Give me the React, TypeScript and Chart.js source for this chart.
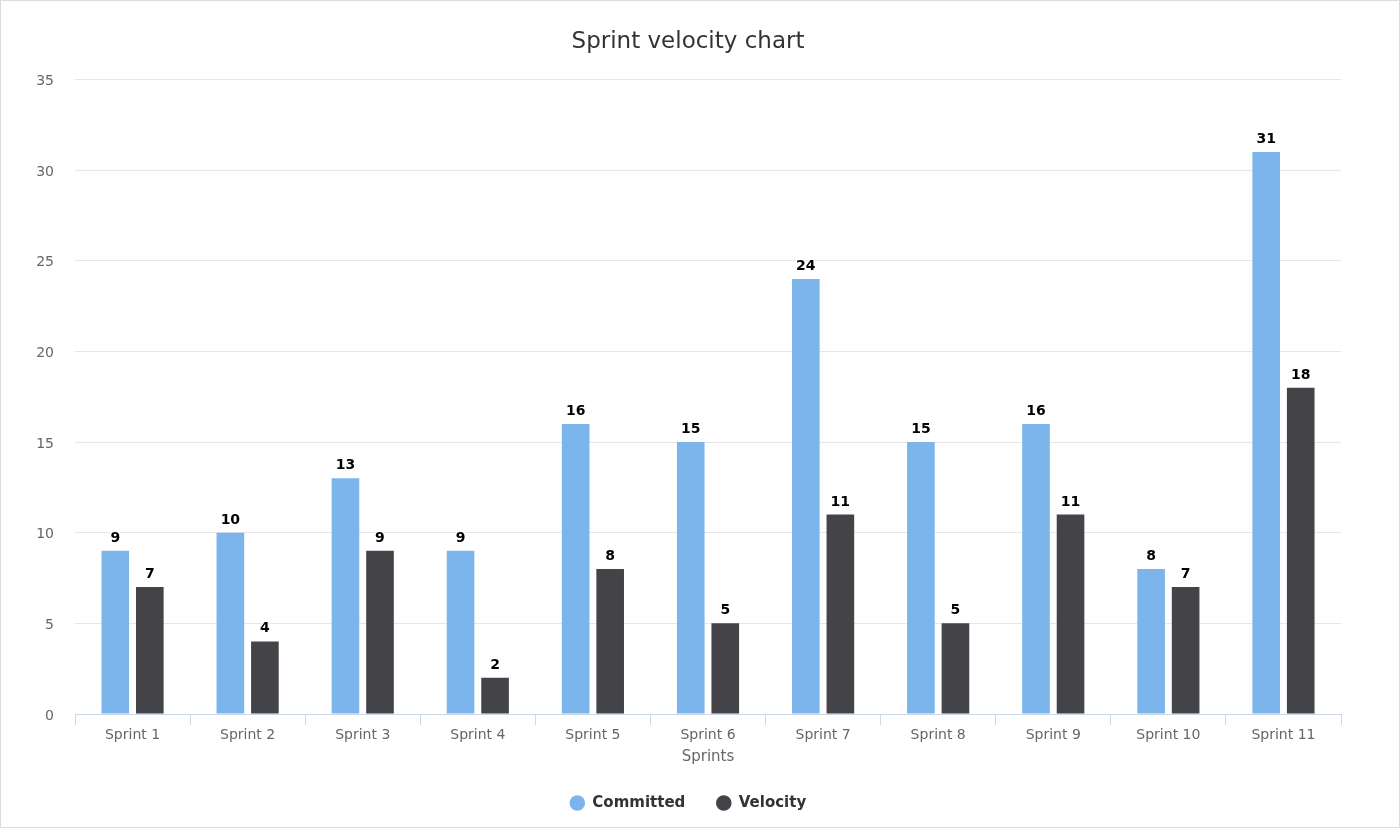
import React, { useEffect, useRef } from "react";
import { Chart, registerables } from "chart.js";

Chart.register(...registerables);

const categories = [
  "Sprint 1", "Sprint 2", "Sprint 3", "Sprint 4", "Sprint 5", "Sprint 6",
  "Sprint 7", "Sprint 8", "Sprint 9", "Sprint 10", "Sprint 11",
];
const committed = [9, 10, 13, 9, 16, 15, 24, 15, 16, 8, 31];
const velocity = [7, 4, 9, 2, 8, 5, 11, 5, 11, 7, 18];

const FONT = '"DejaVu Sans", "Lucida Grande", sans-serif';

const dataLabels = {
  id: "dataLabels",
  afterDatasetsDraw(chart: any) {
    const ctx = chart.ctx;
    ctx.save();
    ctx.font = `bold 14px ${FONT}`;
    ctx.textAlign = "center";
    ctx.textBaseline = "alphabetic";
    ctx.lineJoin = "round";
    chart.data.datasets.forEach((ds: any, i: number) => {
      const meta = chart.getDatasetMeta(i);
      meta.data.forEach((el: any, j: number) => {
        const t = String(ds.data[j]);
        const x = el.x;
        const y = el.y - 9;
        ctx.lineWidth = 3;
        ctx.strokeStyle = "#ffffff";
        ctx.strokeText(t, x, y);
        ctx.fillStyle = "#000000";
        ctx.fillText(t, x, y);
      });
    });
    ctx.restore();
  },
};

export default function App() {
  const ref = useRef<HTMLCanvasElement | null>(null);
  useEffect(() => {
    if (!ref.current) return;
    const chart = new Chart(ref.current, {
      type: "bar",
      data: {
        labels: categories,
        datasets: [
          {
            label: "Committed",
            data: committed,
            backgroundColor: "#7cb5ec",
            borderWidth: 0,
            categoryPercentage: 0.6,
            barPercentage: 0.8,
          },
          {
            label: "Velocity",
            data: velocity,
            backgroundColor: "#434348",
            borderWidth: 0,
            categoryPercentage: 0.6,
            barPercentage: 0.8,
          },
        ],
      },
      options: {
        animation: false,
        responsive: false,
        devicePixelRatio: 1,
        layout: { padding: { left: 0, right: 24, top: 0, bottom: 6.5 } },
        plugins: {
          title: {
            display: true,
            text: "Sprint velocity chart",
            color: "#333333",
            font: { family: FONT, size: 23, weight: "normal", lineHeight: 1.2 },
            padding: { top: 27, bottom: 24 },
          },
          legend: {
            display: true,
            position: "bottom",
            labels: {
              usePointStyle: true,
              pointStyle: "circle",
              boxWidth: 15,
              boxHeight: 11,
              padding: 31,
              color: "#333333",
              font: { family: FONT, size: 15, weight: "bold" },
            },
          },
          tooltip: { enabled: false },
        },
        scales: {
          x: {
            grid: {
              offset: true,
              drawOnChartArea: false,
              drawTicks: true,
              tickLength: 11,
              color: "#ccd6eb",
            },
            border: { display: true, color: "#ccd6eb" },
            ticks: {
              color: "#666666",
              font: { family: FONT, size: 14 },
              padding: 2,
              maxRotation: 0,
            },
            title: {
              display: true,
              text: "Sprints",
              color: "#666666",
              font: { family: FONT, size: 15, lineHeight: 1 },
              padding: { top: 0, bottom: 0 },
            },
            afterFit(s: any) {
              s.height = 50.5;
            },
          },
          y: {
            min: 0,
            max: 35,
            ticks: {
              stepSize: 5,
              color: "#666666",
              font: { family: FONT, size: 14 },
              padding: 21,
              labelOffset: 2,
            },
            grid: { color: "#e6e6e6", drawTicks: false },
            border: { display: false },
            afterFit(s: any) {
              s.width = 74;
            },
          },
          y2: {
            position: "right",
            display: true,
            grid: { display: false },
            ticks: { display: false },
            border: { display: false },
            afterFit(s: any) {
              s.width = 34;
            },
          },
        },
      },
      plugins: [dataLabels],
    });
    return () => chart.destroy();
  }, []);
  return (
    <div
      style={{
        position: "absolute",
        left: 0,
        top: 0,
        width: 1400,
        height: 828,
        boxSizing: "border-box",
        border: "1px solid #dcdcdc",
        background: "#ffffff",
      }}
    >
      <canvas ref={ref} width={1398} height={826} style={{ display: "block" }} />
    </div>
  );
}
